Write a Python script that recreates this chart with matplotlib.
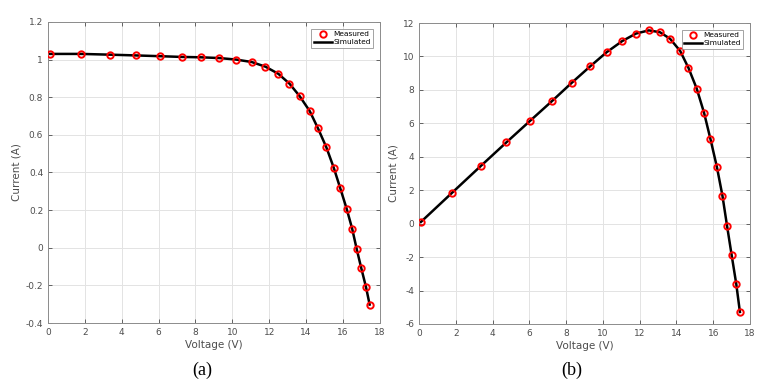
import numpy as np
import matplotlib.pyplot as plt

# measured I-V / P-V points
voltage = [0.1, 1.8, 3.35, 4.75, 6.05, 7.25, 8.3, 9.3, 10.2, 11.05, 11.8, 12.5, 13.1,
           13.65, 14.2, 14.65, 15.1, 15.5, 15.85, 16.2, 16.5, 16.75, 17.0, 17.25, 17.45]
current = [1.03, 1.03, 1.026, 1.022, 1.018, 1.014, 1.012, 1.008, 1.0, 0.987, 0.962, 0.924,
           0.872, 0.806, 0.726, 0.634, 0.534, 0.426, 0.318, 0.208, 0.102, -0.008, -0.11,
           -0.208, -0.302]
power = [0.1, 1.85, 3.44, 4.86, 6.16, 7.35, 8.42, 9.4, 10.25, 10.92, 11.37, 11.56, 11.45,
         11.06, 10.33, 9.32, 8.08, 6.63, 5.05, 3.38, 1.67, -0.13, -1.88, -3.6, -5.28]

xticks = np.arange(0, 19, 2)
yticks_a = [-0.4, -0.2, 0, 0.2, 0.4, 0.6, 0.8, 1, 1.2]
yticks_b = [-6, -4, -2, 0, 2, 4, 6, 8, 10, 12]

fig = plt.figure(figsize=(7.68, 3.88), dpi=100)
ax1 = fig.add_axes([0.0625, 0.1675, 0.432, 0.776])
ax2 = fig.add_axes([0.5456, 0.165, 0.431, 0.7757])

tick_col = "#4d4d4d"


def style(ax, yvals, yticks, ylim):
    ax.plot(voltage, yvals, "-", color="black", lw=1.8, label="Simulated", zorder=2)
    ax.plot(voltage, yvals, "o", mfc="none", mec="red", mew=1.4, ms=4.6,
            label="Measured", zorder=3)
    ax.set_xlim(0, 18)
    ax.set_ylim(*ylim)
    ax.set_xticks(xticks)
    ax.set_yticks(yticks)
    ax.set_yticklabels([f"{t:g}" for t in yticks])
    ax.grid(True, color="#e3e3e3", lw=0.7)
    ax.set_axisbelow(True)
    ax.tick_params(direction="in", length=3, labelsize=6.5, colors=tick_col,
                   top=True, right=True, width=0.6)
    for s in ax.spines.values():
        s.set_color("#8c8c8c")
        s.set_linewidth(0.7)
    ax.set_xlabel("Voltage (V)", fontsize=7.5, color=tick_col, labelpad=2)
    ax.set_ylabel("Current (A)", fontsize=7.5, color=tick_col, labelpad=3)
    h, l = ax.get_legend_handles_labels()
    leg = ax.legend(h[::-1], l[::-1], loc="upper right", fontsize=5.3, frameon=True,
                    fancybox=False, borderpad=0.35, handlelength=2.4, labelspacing=0.25,
                    borderaxespad=0.9, handletextpad=0.2)
    leg.get_frame().set_edgecolor("#8c8c8c")
    leg.get_frame().set_linewidth(0.7)


style(ax1, current, yticks_a, (-0.4, 1.2))
style(ax2, power, yticks_b, (-6, 12))

fig.text(0.263, 0.045, "(a)", family="Liberation Serif", fontsize=13, ha="center", va="center")
fig.text(0.745, 0.045, "(b)", family="Liberation Serif", fontsize=13, ha="center", va="center")

plt.savefig("out.png", dpi=100)
